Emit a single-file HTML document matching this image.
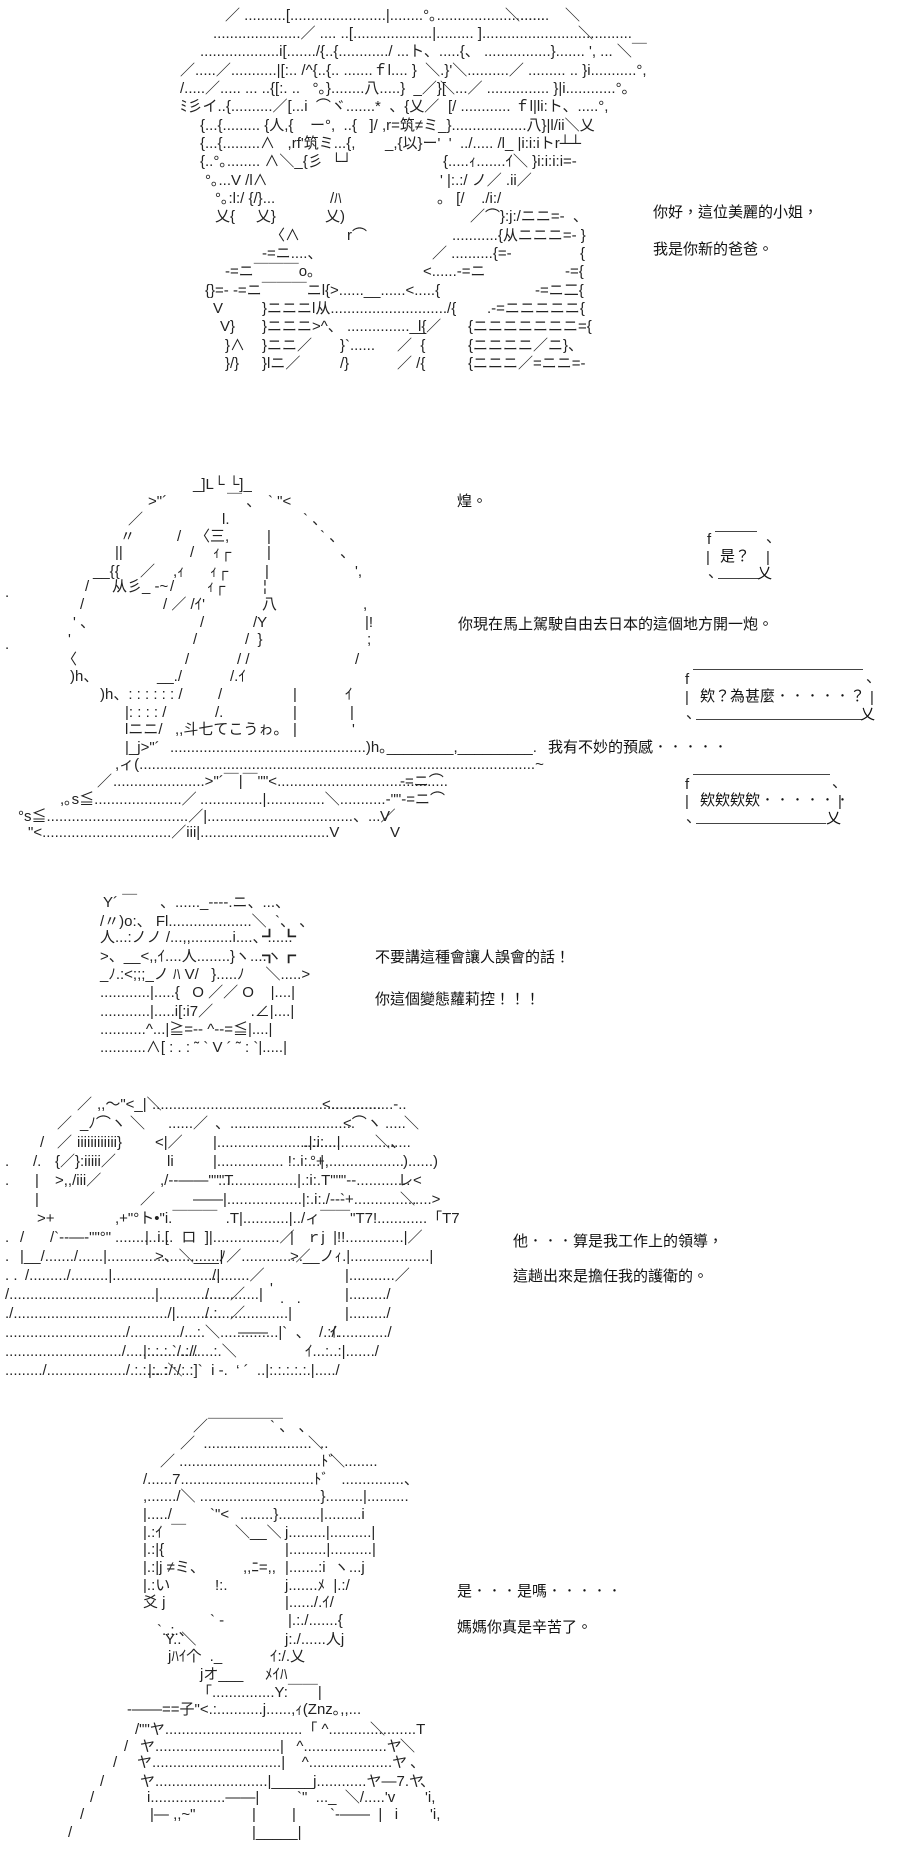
<!DOCTYPE html>
<html><head><meta charset="utf-8">
<style>
html,body{margin:0;padding:0;background:#fff;}
body{width:910px;height:1862px;position:relative;overflow:hidden;}
.t{position:absolute;white-space:pre;font:15px/18px "Liberation Sans","Noto Sans CJK JP",sans-serif;color:#222;}
.d{position:absolute;white-space:pre;font:15px/18px "Liberation Sans","Noto Sans CJK TC",sans-serif;color:#111;}
.h{position:absolute;border-top:1px solid #444;}
</style></head><body>

<!-- Panel 1 -->
<div class="t" style="left:225px;top:7px">／ ..........[.......................|........°｡...........................</div>
<div class="t" style="left:505px;top:7px">＼......</div><div class="t" style="left:565px;top:7px">＼</div>
<div class="t" style="left:213px;top:25px">.....................／ .... ..[...................|......... ]....................................</div>
<div class="t" style="left:578px;top:25px">＼</div>
<div class="t" style="left:200px;top:43px">...................i[......./{..{............/ ...ト、.....{、 ................}....... ', ... ＼￣</div>
<div class="t" style="left:180px;top:62px">／.....／...........|[:.. /^{..{.. .......ｆl.... }  ＼.}'＼..........／ ......... .. }i...........°,</div>
<div class="t" style="left:180px;top:80px">/.....／..... ... ..{[:. ..   °｡}........八.....}  _／}[</div>
<div class="t" style="left:440px;top:80px">＼...／ ............... }|i............°｡</div>
<div class="t" style="left:180px;top:98px">ﾐ彡イ..{..........／[...i  ⌒ヾ.......*  、{乂／</div>
<div class="t" style="left:448px;top:98px">[/ ............ ｆl|li:ト、.....°,</div>
<div class="t" style="left:200px;top:117px">{...{......... {人,{    ー°,  ..{   ]/</div>
<div class="t" style="left:382px;top:117px">,r=筑≠ミ_}..................八}|l/ii＼乂</div>
<div class="t" style="left:200px;top:135px">{...{.........∧   ,rf'筑ミ...{,</div>
<div class="t" style="left:385px;top:135px">_,{以}ー'  '</div>
<div class="t" style="left:460px;top:135px">../..... /l_ |i:i:iトr┴┴</div>
<div class="t" style="left:200px;top:153px">{..°｡........ ∧＼_{彡  └┘</div>
<div class="t" style="left:443px;top:153px">{.....ｨ.......ｲ＼ }i:i:i:i=-</div>
<div class="t" style="left:205px;top:172px">°｡...V /l∧</div>
<div class="t" style="left:440px;top:172px">' |:.:/ ノ／ .ii／</div>
<div class="t" style="left:215px;top:190px">°｡:l:/ {/}...</div>
<div class="t" style="left:330px;top:190px">/ﾊ</div>
<div class="t" style="left:437px;top:190px">。 [/    ./i:/</div>
<div class="t" style="left:215px;top:208px">乂{     乂}</div>
<div class="t" style="left:325px;top:208px">乂)</div>
<div class="t" style="left:470px;top:208px">／⌒}:j:/ニニ=-  、</div>
<div class="t" style="left:270px;top:227px">〈∧</div>
<div class="t" style="left:347px;top:227px">r⌒</div>
<div class="t" style="left:452px;top:227px">...........{从ニニニ=- }</div>
<div class="t" style="left:262px;top:245px">-=ニ....、</div>
<div class="t" style="left:432px;top:245px">／ ..........{=-</div>
<div class="t" style="left:580px;top:245px">{</div>
<div class="t" style="left:225px;top:263px">-=ニ￣￣￣o｡</div>
<div class="t" style="left:423px;top:263px">&lt;......-=ニ</div>
<div class="t" style="left:565px;top:263px">-={</div>
<div class="t" style="left:205px;top:282px">{}=- -=ニ￣￣￣ニl{&gt;......__......&lt;.....{</div>
<div class="t" style="left:535px;top:282px">-=ニ二{</div>
<div class="t" style="left:213px;top:300px">V</div>
<div class="t" style="left:262px;top:300px">}ニニニl从............................/{</div>
<div class="t" style="left:487px;top:300px">.-=ニニニニニ{</div>
<div class="t" style="left:220px;top:318px">V}</div>
<div class="t" style="left:262px;top:318px">}ニニニ&gt;^、 ...............__／</div>
<div class="t" style="left:418px;top:318px">l{</div>
<div class="t" style="left:468px;top:318px">{ニニニニニニニ={</div>
<div class="t" style="left:225px;top:337px">}∧</div>
<div class="t" style="left:262px;top:337px">}ニニ／</div>
<div class="t" style="left:340px;top:337px">}`......</div>
<div class="t" style="left:397px;top:337px">／  {</div>
<div class="t" style="left:468px;top:337px">{ニニニニ／ニ}、</div>
<div class="t" style="left:225px;top:355px">}/}</div>
<div class="t" style="left:262px;top:355px">}lニ／</div>
<div class="t" style="left:340px;top:355px">/}</div>
<div class="t" style="left:397px;top:355px">／ /{</div>
<div class="t" style="left:468px;top:355px">{ニニニ／=ニニ=-</div>

<div class="d" style="left:653px;top:204px">你好，這位美麗的小姐，</div>
<div class="d" style="left:653px;top:241px">我是你新的爸爸。</div>

<!-- Panel 2 -->
<div class="t" style="left:193px;top:476px">_]L└ └]_</div>
<div class="t" style="left:148px;top:493px">&gt;"´</div>
<div class="t" style="left:227px;top:493px">￣ 、</div>
<div class="t" style="left:268px;top:493px">` "&lt;</div>
<div class="t" style="left:128px;top:511px">／</div>
<div class="t" style="left:222px;top:511px">l.</div>
<div class="t" style="left:303px;top:511px">` 、</div>
<div class="t" style="left:120px;top:528px">〃</div>
<div class="t" style="left:177px;top:528px">/</div>
<div class="t" style="left:195px;top:528px">〈三,</div>
<div class="t" style="left:267px;top:528px">|</div>
<div class="t" style="left:320px;top:528px">` 、</div>
<div class="t" style="left:115px;top:544px">||</div>
<div class="t" style="left:190px;top:544px">/</div>
<div class="t" style="left:213px;top:544px">ｨ┌</div>
<div class="t" style="left:267px;top:544px">|</div>
<div class="t" style="left:340px;top:544px">、</div>
<div class="t" style="left:93px;top:563px">__{{</div>
<div class="t" style="left:140px;top:563px">／</div>
<div class="t" style="left:173px;top:563px">,ｨ</div>
<div class="t" style="left:210px;top:563px">ｨ┌</div>
<div class="t" style="left:265px;top:563px">|</div>
<div class="t" style="left:355px;top:563px">',</div>
<div class="t" style="left:85px;top:578px">/</div>
<div class="t" style="left:112px;top:578px">从彡_ -~</div>
<div class="t" style="left:170px;top:578px">/</div>
<div class="t" style="left:207px;top:578px">ｨ┌</div>
<div class="t" style="left:263px;top:578px">¦</div>
<div class="t" style="left:80px;top:596px">/</div>
<div class="t" style="left:163px;top:596px">/ ／ /ｲ'</div>
<div class="t" style="left:262px;top:596px">八</div>
<div class="t" style="left:363px;top:596px">,</div>
<div class="t" style="left:73px;top:614px">' 、</div>
<div class="t" style="left:200px;top:614px">/</div>
<div class="t" style="left:253px;top:614px">/Y</div>
<div class="t" style="left:365px;top:614px">|!</div>
<div class="t" style="left:68px;top:631px">'</div>
<div class="t" style="left:193px;top:631px">/</div>
<div class="t" style="left:245px;top:631px">/  }</div>
<div class="t" style="left:367px;top:631px">;</div>
<div class="t" style="left:62px;top:651px">〈</div>
<div class="t" style="left:185px;top:651px">/</div>
<div class="t" style="left:237px;top:651px">/ /</div>
<div class="t" style="left:355px;top:651px">/</div>
<div class="t" style="left:70px;top:668px">)h、</div>
<div class="t" style="left:157px;top:668px">__./</div>
<div class="t" style="left:230px;top:668px">/.ｲ</div>
<div class="t" style="left:100px;top:686px">)h、: : : : : : /</div>
<div class="t" style="left:218px;top:686px">/</div>
<div class="t" style="left:293px;top:686px">|</div>
<div class="t" style="left:345px;top:686px">ｲ</div>
<div class="t" style="left:125px;top:704px">|: : : : /</div>
<div class="t" style="left:215px;top:704px">/.</div>
<div class="t" style="left:293px;top:704px">|</div>
<div class="t" style="left:350px;top:704px">|</div>
<div class="t" style="left:125px;top:721px">lニニ/</div>
<div class="t" style="left:175px;top:721px">,,斗七てこうゎ。</div>
<div class="t" style="left:293px;top:721px">|</div>
<div class="t" style="left:352px;top:721px">'</div>
<div class="t" style="left:125px;top:739px">|_j&gt;"´</div>
<div class="t" style="left:170px;top:739px">...............................................)h｡________,_________.</div>
<div class="t" style="left:115px;top:756px">,ィ(...............................................................................................~</div>
<div class="t" style="left:97px;top:773px">／</div>
<div class="t" style="left:113px;top:773px">......................&gt;"´￣|￣""&lt;.........................................</div>
<div class="t" style="left:400px;top:773px">-=ニ⌒</div>
<div class="t" style="left:60px;top:791px">,｡s≦.....................／</div>
<div class="t" style="left:200px;top:791px">...............|..............＼...........-""-=ニ⌒</div>
<div class="t" style="left:18px;top:808px">°s≦..................................／|...................................、...／</div>
<div class="t" style="left:380px;top:808px">V</div>
<div class="t" style="left:28px;top:824px">"&lt;...............................／iii|...............................V</div>
<div class="t" style="left:390px;top:824px">V</div>
<div class="t" style="left:5px;top:584px">.</div>
<div class="t" style="left:5px;top:636px">.</div>

<div class="d" style="left:457px;top:493px">煌。</div>
<div class="d" style="left:458px;top:616px">你現在馬上駕駛自由去日本的這個地方開一炮。</div>
<div class="d" style="left:548px;top:739px">我有不妙的預感．．．．．</div>

<!-- bubbles -->
<div class="h" style="left:715px;top:531px;width:42px"></div>
<div class="t" style="left:707px;top:531px">f</div>
<div class="t" style="left:766px;top:529px">、</div>
<div class="t" style="left:706px;top:549px">|</div>
<div class="d" style="left:720px;top:548px">是？</div>
<div class="t" style="left:766px;top:549px">|</div>
<div class="t" style="left:708px;top:564px">、</div>
<div class="h" style="left:718px;top:578px;width:40px"></div>
<div class="d" style="left:757px;top:565px">乂</div>

<div class="h" style="left:693px;top:669px;width:170px"></div>
<div class="t" style="left:685px;top:671px">f</div>
<div class="t" style="left:866px;top:669px">、</div>
<div class="t" style="left:685px;top:689px">|</div>
<div class="d" style="left:700px;top:688px">欸？為甚麼．．．．．？</div>
<div class="t" style="left:870px;top:689px">|</div>
<div class="t" style="left:686px;top:705px">、</div>
<div class="h" style="left:696px;top:719px;width:165px"></div>
<div class="d" style="left:860px;top:706px">乂</div>

<div class="h" style="left:693px;top:774px;width:137px"></div>
<div class="t" style="left:685px;top:776px">f</div>
<div class="t" style="left:832px;top:774px">、</div>
<div class="t" style="left:685px;top:793px">|</div>
<div class="d" style="left:700px;top:792px">欸欸欸欸．．．．．．</div>
<div class="t" style="left:838px;top:793px">|</div>
<div class="t" style="left:686px;top:809px">、</div>
<div class="h" style="left:696px;top:823px;width:130px"></div>
<div class="d" style="left:826px;top:810px">乂</div>

<!-- Panel 3 -->
<div class="t" style="left:103px;top:894px">Y´ ￣</div>
<div class="t" style="left:160px;top:894px">、......_‐‐‐‐.ニ、...、</div>
<div class="t" style="left:100px;top:913px">/〃)o:、 Fl....................＼  `、 、</div>
<div class="t" style="left:100px;top:929px">人...:ノノ /...,,..........i....、......</div>
<div class="t" style="left:262px;top:929px;font-weight:bold">┛ ┗</div>
<div class="t" style="left:100px;top:948px">&gt;、__&lt;,,ｲ....人........}ヽ....ヽ</div>
<div class="t" style="left:262px;top:948px;font-weight:bold">┓ ┏</div>
<div class="t" style="left:100px;top:966px">_ﾉ.:&lt;;;;_ノ ﾊ V/   }.....ﾉ     ＼.....&gt;</div>
<div class="t" style="left:100px;top:984px">............|.....{   O ／／ O    |....|</div>
<div class="t" style="left:100px;top:1003px">............|.....i[:i7／         .∠|....|</div>
<div class="t" style="left:100px;top:1021px">...........^...|≧=‐‐ ^‐‐=≦|....|</div>
<div class="t" style="left:100px;top:1039px">...........∧[ : . : ˜ ` V ´ ˜ : `|.....|</div>

<div class="d" style="left:375px;top:949px">不要講這種會讓人誤會的話！</div>
<div class="d" style="left:375px;top:991px">你這個變態蘿莉控！！！</div>

<!-- Panel 4 -->
<div class="t" style="left:77px;top:1096px">／</div>
<div class="t" style="left:97px;top:1096px">,,～"&lt;_|＼</div>
<div class="t" style="left:152px;top:1096px">.......................................................</div>
<div class="t" style="left:322px;top:1096px">&lt;...............‐..</div>
<div class="t" style="left:57px;top:1115px">／</div>
<div class="t" style="left:80px;top:1115px">_ﾉ⌒ヽ</div>
<div class="t" style="left:130px;top:1115px">＼</div>
<div class="t" style="left:168px;top:1115px">......／</div>
<div class="t" style="left:215px;top:1115px">、..............................</div>
<div class="t" style="left:343px;top:1115px">&lt;⌒ヽ</div>
<div class="t" style="left:385px;top:1115px">.....</div>
<div class="t" style="left:404px;top:1115px">＼</div>
<div class="t" style="left:40px;top:1134px">/</div>
<div class="t" style="left:57px;top:1134px">／</div>
<div class="t" style="left:77px;top:1134px">iiiiiiiiiiii}</div>
<div class="t" style="left:155px;top:1134px">&lt;|／</div>
<div class="t" style="left:213px;top:1134px">|......................|:i:...|</div>
<div class="t" style="left:303px;top:1134px">.....................、</div>
<div class="t" style="left:375px;top:1134px">＼.....</div>
<div class="t" style="left:5px;top:1153px">.</div>
<div class="t" style="left:33px;top:1153px">/.</div>
<div class="t" style="left:55px;top:1153px">{／}:iiiii／</div>
<div class="t" style="left:167px;top:1153px">li</div>
<div class="t" style="left:213px;top:1153px">|................ !:.i:...|</div>
<div class="t" style="left:310px;top:1153px">°+,..................</div>
<div class="t" style="left:403px;top:1153px">)......)</div>
<div class="t" style="left:5px;top:1172px">.</div>
<div class="t" style="left:35px;top:1172px">|</div>
<div class="t" style="left:55px;top:1172px">&gt;,,/iii／</div>
<div class="t" style="left:160px;top:1172px">,/‐‐――"""T</div>
<div class="t" style="left:218px;top:1172px">...................|.:i:.T"""‐‐.............</div>
<div class="t" style="left:398px;top:1172px">レ&lt;</div>
<div class="t" style="left:35px;top:1191px">|</div>
<div class="t" style="left:140px;top:1191px">／</div>
<div class="t" style="left:193px;top:1191px">――|..................|:.i:./‐‐‐</div>
<div class="t" style="left:340px;top:1191px">`+...............</div>
<div class="t" style="left:400px;top:1191px">＼....&gt;</div>
<div class="t" style="left:37px;top:1210px">&gt;+</div>
<div class="t" style="left:115px;top:1210px">,+"°ト•"i.￣￣￣  .T|...........|../ィ￣￣"T7!............「T7</div>
<div class="t" style="left:5px;top:1229px">.</div>
<div class="t" style="left:20px;top:1229px">/</div>
<div class="t" style="left:50px;top:1229px">/`‐‐―‐""°"</div>
<div class="t" style="left:115px;top:1229px">..............</div>
<div class="t" style="left:145px;top:1229px">|  i [   ロ  ]|................／</div>
<div class="t" style="left:290px;top:1229px">|   ｒj  |!!..............|／</div>
<div class="t" style="left:5px;top:1248px">.</div>
<div class="t" style="left:20px;top:1248px">|__/......./......|...........................|</div>
<div class="t" style="left:155px;top:1248px">&gt;、＼___ﾉ／.............／</div>
<div class="t" style="left:290px;top:1248px">&gt;.__ノｨ.|...................|</div>
<div class="t" style="left:5px;top:1267px">. .</div>
<div class="t" style="left:25px;top:1267px">/........./.........|.........................|</div>
<div class="t" style="left:212px;top:1267px">/........／</div>
<div class="t" style="left:345px;top:1267px">|...........／</div>
<div class="t" style="left:5px;top:1286px">/...................................|........................|</div>
<div class="t" style="left:205px;top:1286px">/.....／</div>
<div class="t" style="left:270px;top:1280px">'</div>
<div class="t" style="left:280px;top:1290px">.   .</div>
<div class="t" style="left:345px;top:1286px">|........./</div>
<div class="t" style="left:5px;top:1305px">./...................................../|...........................|</div>
<div class="t" style="left:205px;top:1305px">/.:.  ／</div>
<div class="t" style="left:345px;top:1305px">|........./</div>
<div class="t" style="left:5px;top:1324px">............................./............/...:.＼..............|`  、  /.:/.</div>
<div class="t" style="left:238px;top:1324px">――</div>
<div class="t" style="left:330px;top:1324px">ｲ............/</div>
<div class="t" style="left:5px;top:1343px">............................/................/....:.＼</div>
<div class="t" style="left:143px;top:1343px">|:.:.:.`/.:/.</div>
<div class="t" style="left:305px;top:1343px">ｲ...:..:|......./</div>
<div class="t" style="left:5px;top:1362px">........./.................../.:.:....:＼</div>
<div class="t" style="left:148px;top:1362px">|:. :/:/:.:]`  i -.  ‘ ´  ..|:.:.:.:.:.|...../</div>

<div class="d" style="left:513px;top:1233px">他．．．算是我工作上的領導，</div>
<div class="d" style="left:513px;top:1268px">這趟出來是擔任我的護衛的。</div>

<!-- Panel 5 -->
<div class="t" style="left:193px;top:1418px">／￣￣￣￣￣</div>
<div class="t" style="left:270px;top:1418px">` 、 、</div>
<div class="t" style="left:180px;top:1435px">／  ..........................  ..</div>
<div class="t" style="left:308px;top:1435px">＼</div>
<div class="t" style="left:160px;top:1453px">／ ..................................ﾄﾞ  ........</div>
<div class="t" style="left:330px;top:1453px">＼</div>
<div class="t" style="left:143px;top:1471px">/......7................................ﾄﾞ   ...............、</div>
<div class="t" style="left:143px;top:1488px">,......./＼ .............................}.........|..........</div>
<div class="t" style="left:143px;top:1506px">|...../</div>
<div class="t" style="left:210px;top:1506px">`"&lt;</div>
<div class="t" style="left:240px;top:1506px">........}..........|.........i</div>
<div class="t" style="left:143px;top:1524px">|.:ｲ  ￣</div>
<div class="t" style="left:235px;top:1524px">＼__＼</div>
<div class="t" style="left:285px;top:1524px">j.........|..........|</div>
<div class="t" style="left:143px;top:1541px">|.:|{</div>
<div class="t" style="left:285px;top:1541px">|.........|..........|</div>
<div class="t" style="left:143px;top:1559px">|.:|j ≠ミ、</div>
<div class="t" style="left:243px;top:1559px">,,ﾆ=,,</div>
<div class="t" style="left:285px;top:1559px">|.......:i  ヽ...j</div>
<div class="t" style="left:143px;top:1577px">|.:い</div>
<div class="t" style="left:215px;top:1577px">!:.</div>
<div class="t" style="left:285px;top:1577px">j.......ﾒ  |.:/</div>
<div class="t" style="left:143px;top:1594px">爻 j</div>
<div class="t" style="left:285px;top:1594px">|....../.ｲ/</div>
<div class="t" style="left:210px;top:1612px">` ‐</div>
<div class="t" style="left:288px;top:1612px">|.:./.......{</div>
<div class="t" style="left:157px;top:1622px">`..:.、</div>
<div class="t" style="left:165px;top:1631px">Y..＼</div>
<div class="t" style="left:285px;top:1631px">j:./......人j</div>
<div class="t" style="left:168px;top:1648px">jﾊｲ个  ._</div>
<div class="t" style="left:270px;top:1648px">ｲ:/.乂</div>
<div class="t" style="left:200px;top:1666px">jオ___</div>
<div class="t" style="left:265px;top:1666px">ﾒｲﾊ</div>
<div class="t" style="left:197px;top:1684px">「...............Y:￣￣|</div>
<div class="t" style="left:127px;top:1701px">‐――==子"&lt;.:...........j......,ｨ(Znz｡,,...</div>
<div class="t" style="left:135px;top:1721px">/""ヤ.................................「 ^.....................T</div>
<div class="t" style="left:370px;top:1721px">＼</div>
<div class="t" style="left:124px;top:1738px">/</div>
<div class="t" style="left:140px;top:1738px">ヤ..............................|   ^....................ヤ</div>
<div class="t" style="left:400px;top:1738px">＼</div>
<div class="t" style="left:113px;top:1754px">/</div>
<div class="t" style="left:137px;top:1754px">ヤ...............................|    ^....................ヤ</div>
<div class="t" style="left:410px;top:1754px">、</div>
<div class="t" style="left:100px;top:1773px">/</div>
<div class="t" style="left:140px;top:1773px">ヤ...........................|_____j............ヤ―7.ヤ</div>
<div class="t" style="left:420px;top:1773px">、</div>
<div class="t" style="left:90px;top:1789px">/</div>
<div class="t" style="left:147px;top:1789px">i..................――|</div>
<div class="t" style="left:297px;top:1789px">`"  ..._  ＼/.....'v</div>
<div class="t" style="left:425px;top:1789px">'i,</div>
<div class="t" style="left:80px;top:1806px">/</div>
<div class="t" style="left:150px;top:1806px">|― ,,~"</div>
<div class="t" style="left:252px;top:1806px">|</div>
<div class="t" style="left:292px;top:1806px">|</div>
<div class="t" style="left:330px;top:1806px">`‐――  |   i</div>
<div class="t" style="left:430px;top:1806px">'i,</div>
<div class="t" style="left:68px;top:1824px">/</div>
<div class="t" style="left:252px;top:1824px">|_____|</div>

<div class="d" style="left:457px;top:1583px">是．．．是嗎．．．．．</div>
<div class="d" style="left:457px;top:1619px">媽媽你真是辛苦了。</div>

</body></html>
